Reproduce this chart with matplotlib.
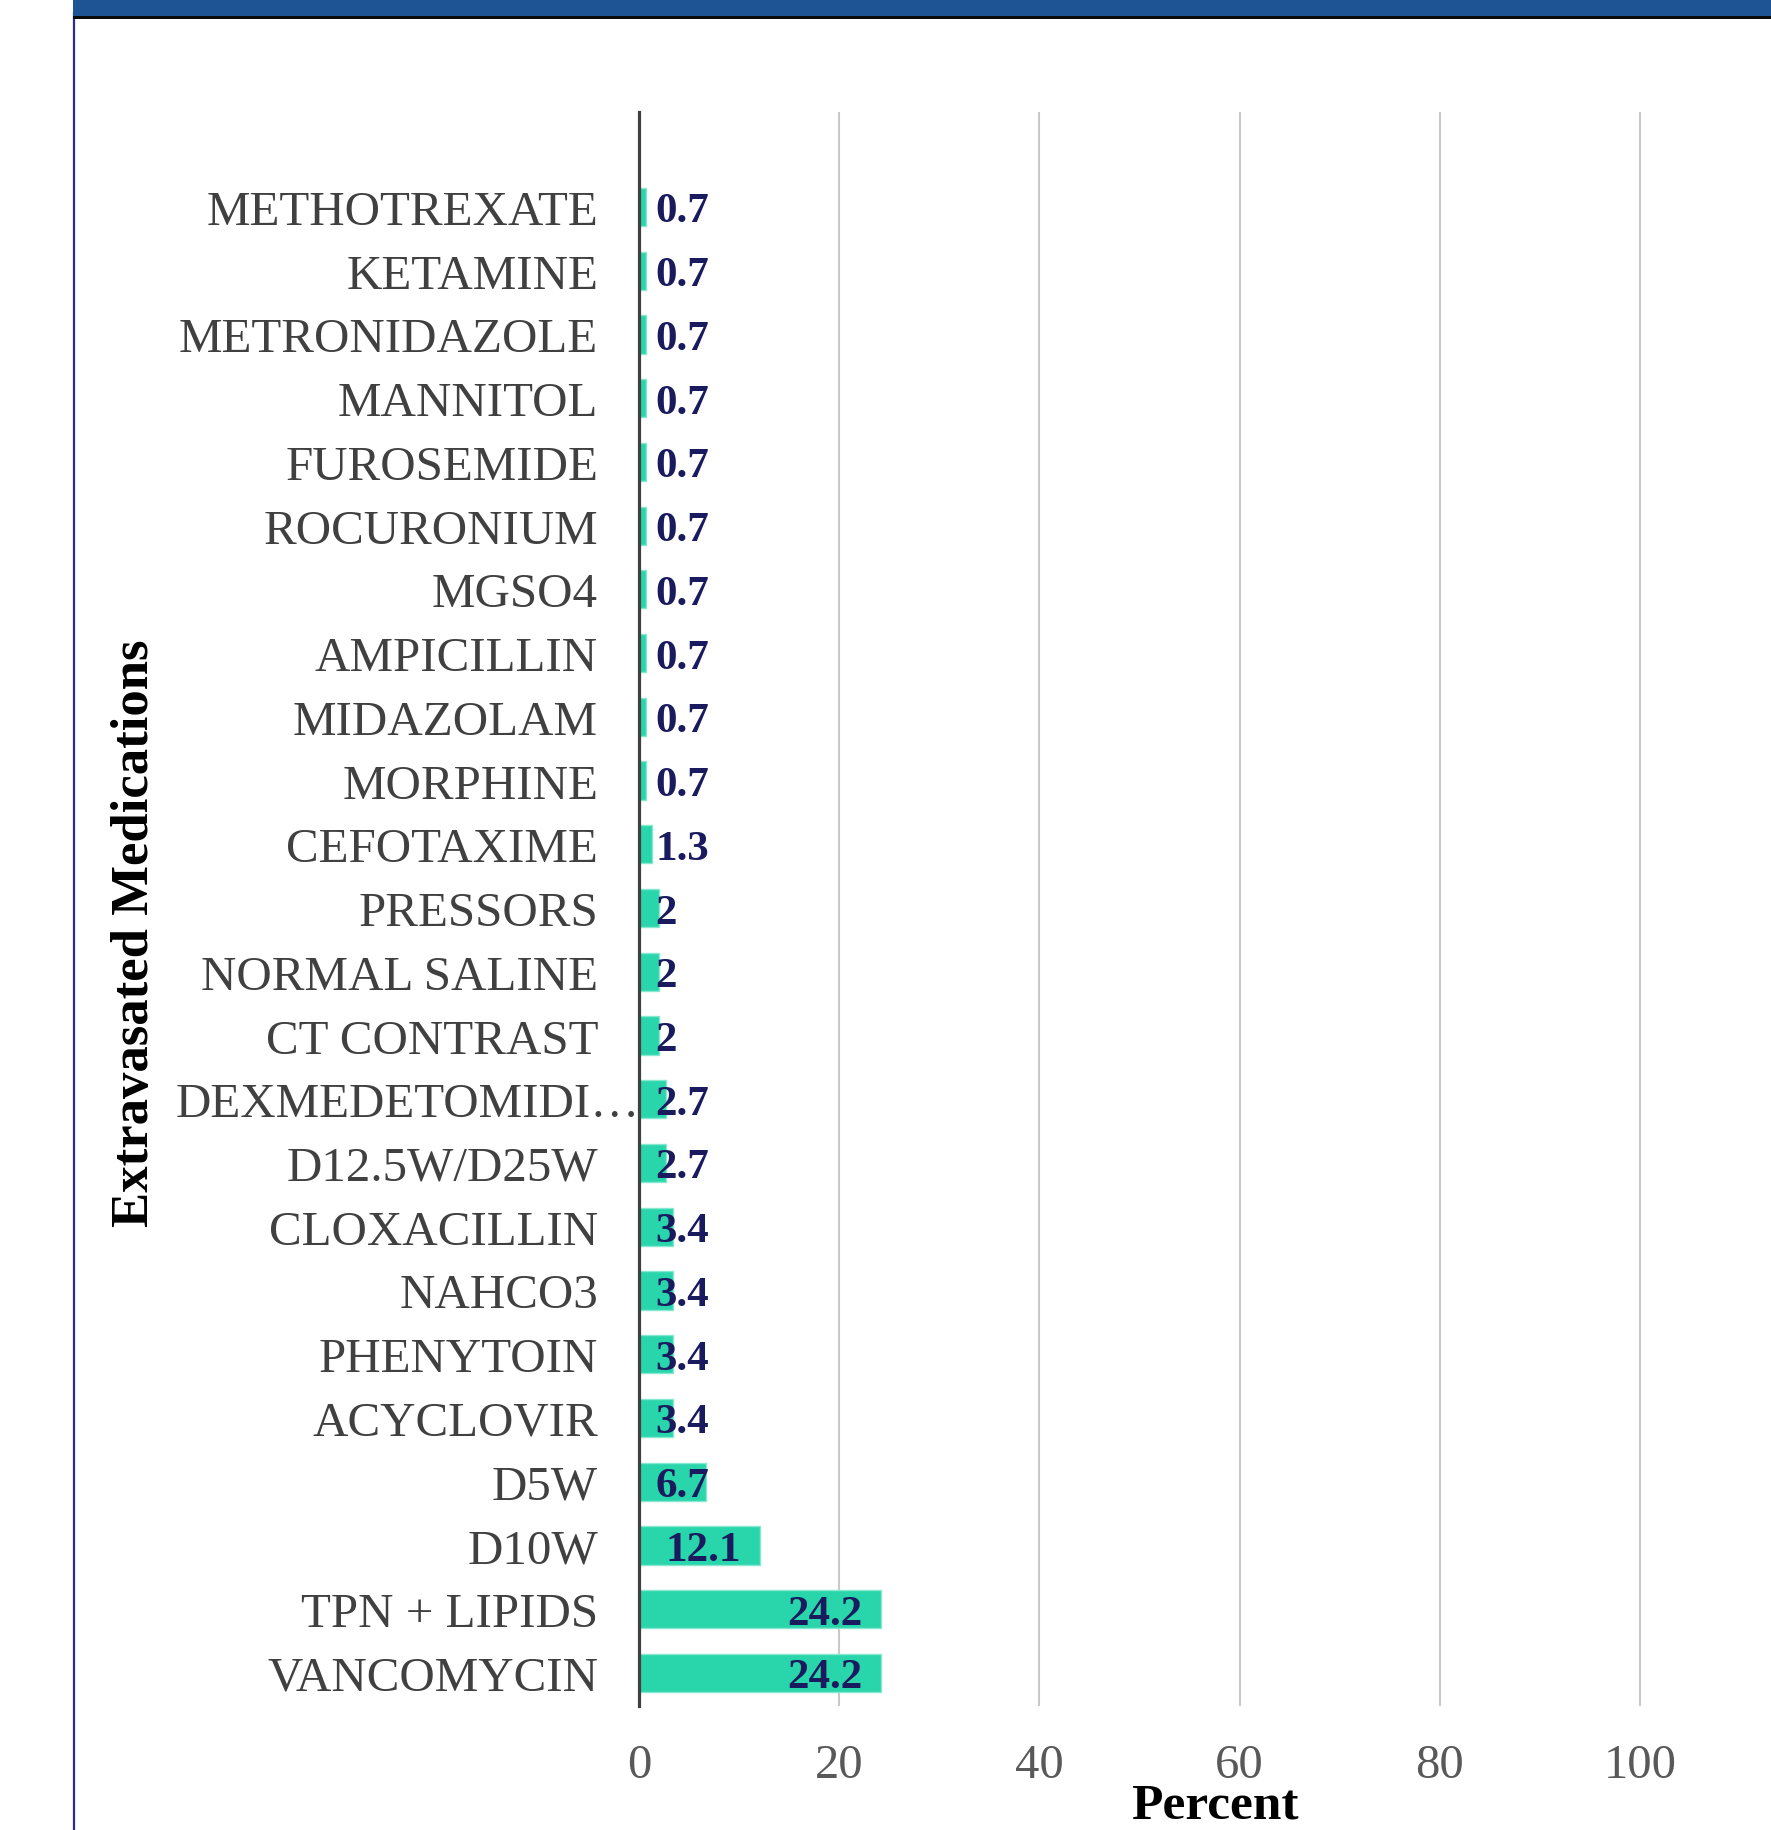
import numpy as np
import matplotlib
matplotlib.use("Agg")
import matplotlib.pyplot as plt
import matplotlib.transforms as mtransforms
from matplotlib.patches import Rectangle

medications = ["METHOTREXATE", "KETAMINE", "METRONIDAZOLE", "MANNITOL", "FUROSEMIDE",
               "ROCURONIUM", "MGSO4", "AMPICILLIN", "MIDAZOLAM", "MORPHINE",
               "CEFOTAXIME", "PRESSORS", "NORMAL SALINE", "CT CONTRAST",
               "DEXMEDETOMIDI\u2026", "D12.5W/D25W", "CLOXACILLIN", "NAHCO3",
               "PHENYTOIN", "ACYCLOVIR", "D5W", "D10W", "TPN + LIPIDS", "VANCOMYCIN"]
percent = [0.7, 0.7, 0.7, 0.7, 0.7, 0.7, 0.7, 0.7, 0.7, 0.7,
           1.3, 2, 2, 2, 2.7, 2.7, 3.4, 3.4, 3.4, 3.4, 6.7, 12.1, 24.2, 24.2]
xticks = [0, 20, 40, 60, 80, 100]

W, H = 1771, 1831
fig = plt.figure(figsize=(W / 100, H / 100), dpi=100)
fig.patch.set_facecolor("white")

serif = ["Liberation Serif", "DejaVu Serif"]

# banner at top and blue side rule
fig.patches.append(Rectangle((73 / W, 1 - 17 / H), 1, 17 / H, transform=fig.transFigure,
                             facecolor="#1F5494", edgecolor="none", zorder=1))
fig.patches.append(Rectangle((73 / W, 1 - 20 / H), 1, 3.5 / H, transform=fig.transFigure,
                             facecolor="#0A0A0A", edgecolor="none", zorder=1))
fig.lines.append(plt.Line2D([73.5 / W, 73.5 / W], [0, 1 - 14 / H], transform=fig.transFigure,
                            color="#2A2AA0", lw=1.6, zorder=1))

ax_left = 639 / W
ax_right = 1.0
ax_bottom = 1 - 1707 / H
ax_top = 1 - 113 / H
ax = fig.add_axes([ax_left, ax_bottom, ax_right - ax_left, ax_top - ax_bottom])

n = len(medications)
ypos = np.arange(n)[::-1]
px_per_unit = (1640 - 639) / 100.0
xmax = (W - 639) / px_per_unit
ax.set_xlim(0, xmax)
ax.set_ylim(-0.52, n - 1 + 1.49)

ax.barh(ypos, percent, height=0.6, color="#29D5AA", edgecolor="#86E8CF", linewidth=1.0, zorder=2)

for y, v in zip(ypos, percent):
    txt = f"{v:g}"
    if v >= 10:
        ax.text(v - 1.9, y, txt, ha="right", va="center_baseline", fontsize=31,
                fontweight="bold", color="#1A1A5E", family=serif, zorder=4)
    else:
        ax.text(1.6, y, txt, ha="left", va="center_baseline", fontsize=31,
                fontweight="bold", color="#1A1A5E", family=serif, zorder=4)

ax.set_yticks(ypos)
ax.set_yticklabels(medications, fontsize=35.3, color="#404040", family=serif)
ax.tick_params(axis="y", length=0, pad=29.5)
ax.set_xticks(xticks)
ax.set_xticklabels([str(t) for t in xticks], fontsize=35, color="#595959", family=serif)
ax.tick_params(axis="x", length=0, pad=27)

# shift truncated label toward axis
for lab in ax.get_yticklabels():
    if lab.get_text().endswith("\u2026"):
        lab.set_transform(lab.get_transform() + mtransforms.ScaledTranslation(42 / 100, 0, fig.dpi_scale_trans))

ax.grid(axis="x", color="#C9C9C9", linewidth=1.5, zorder=0)
ax.set_axisbelow(True)
for s in ["top", "right", "bottom"]:
    ax.spines[s].set_visible(False)
ax.spines["left"].set_color("#404040")
ax.spines["left"].set_linewidth(2.3)
ax.spines["left"].set_zorder(5)

fig.text(1215 / W, 1.5 / H, "Percent", ha="center", va="bottom", fontsize=37,
         fontweight="bold", color="black", family=serif)
fig.text(135 / W, 1 - 933 / H, "Extravasated Medications", ha="center", va="center",
         rotation=90, fontsize=38, fontweight="bold", color="black", family=serif)

fig.savefig("out.png", dpi=100, facecolor="white")
